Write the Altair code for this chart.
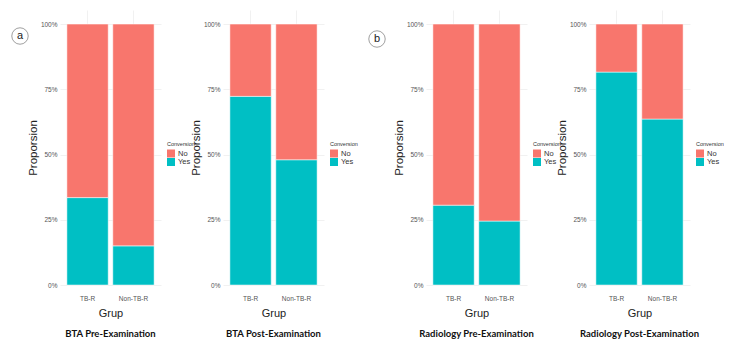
import altair as alt
import pandas as pd

groups = ["TB-R", "Non-TB-R"]
conversion_levels = ["No", "Yes"]
conversion_colors = ["#F8766D", "#00BFC4"]
panel_titles = ["BTA Pre-Examination", "BTA Post-Examination",
                "Radiology Pre-Examination", "Radiology Post-Examination"]
yes_bta_pre = [0.335, 0.15]
yes_bta_post = [0.723, 0.48]
yes_rad_pre = [0.306, 0.245]
yes_rad_post = [0.816, 0.636]
y_ticks = [0, 0.25, 0.5, 0.75, 1.0]

AX_FONT = "Liberation Sans"
TITLE_FONT = "Lato"


def make_panel(title, yes_vals, tag=None, tag_x=0, tag_y=0):
    rows = []
    for g, v in zip(groups, yes_vals):
        rows.append({"Grup": g, "Conversion": "Yes", "Proporsion": v, "ord": 0})
        rows.append({"Grup": g, "Conversion": "No", "Proporsion": round(1 - v, 4), "ord": 1})
    df = pd.DataFrame(rows)
    bars = alt.Chart(df).mark_bar(stroke="white", strokeWidth=0.5).encode(
        x=alt.X("Grup:N", sort=groups,
                scale=alt.Scale(paddingInner=0.1, paddingOuter=0.15),
                axis=alt.Axis(title="Grup", labelAngle=0, ticks=False, domain=False,
                              labelFontSize=6.5, labelColor="#555555",
                              labelPadding=10,
                              titleFontSize=11, titleFontWeight="normal", titleColor="#222222",
                              titlePadding=6, grid=True, gridColor="#eeeeee", gridWidth=0.8)),
        y=alt.Y("Proporsion:Q", stack="zero",
                scale=alt.Scale(domain=[0, 1.054], nice=False, zero=True),
                axis=alt.Axis(title="Proporsion", values=y_ticks, format=".0%", ticks=False,
                              domain=False, labelFontSize=6.5,
                              labelColor="#555555", labelPadding=3,
                              titleFontSize=11.5, titleFontWeight="normal",
                              titleColor="#222222", titlePadding=2,
                              gridColor="#eeeeee", gridWidth=0.8)),
        color=alt.Color("Conversion:N",
                        scale=alt.Scale(domain=conversion_levels, range=conversion_colors),
                        legend=alt.Legend(title="Conversion", titleFontSize=5.5,
                                          titleFontWeight="normal", titleColor="#333333",
                                          labelFontSize=7.5, labelColor="#333333",
                                          symbolType="square", symbolSize=64,
                                          symbolStrokeWidth=0, rowPadding=0.5,
                                          titlePadding=2, labelOffset=3,
                                          orient="none", legendX=107, legendY=132)),
        order=alt.Order("ord:Q"),
    )
    layers = [bars]
    if tag is not None:
        circ = alt.Chart(pd.DataFrame({"t": [tag]})).mark_point(
            shape="circle", size=270, filled=False, color="#555555", strokeWidth=0.8
        ).encode(x=alt.value(tag_x), y=alt.value(tag_y))
        txt = alt.Chart(pd.DataFrame({"t": [tag]})).mark_text(
            fontSize=11, font=AX_FONT, color="#222222", baseline="middle", align="center"
        ).encode(x=alt.value(tag_x), y=alt.value(tag_y), text="t:N")
        layers += [circ, txt]
    return alt.layer(*layers).properties(
        width=101, height=275,
        title=alt.TitleParams(text=title, orient="bottom", anchor="middle", frame="group",
                              fontSize=9.5, fontWeight="bold", font=TITLE_FONT,
                              color="#111111", offset=10),
    )


p1 = make_panel(panel_titles[0], yes_bta_pre, "a", -40, 26)
p2 = make_panel(panel_titles[1], yes_bta_post)
p3 = make_panel(panel_titles[2], yes_rad_pre, "b", -49, 29)
p4 = make_panel(panel_titles[3], yes_rad_post)

left = alt.hconcat(p1, p2, spacing=62, bounds="flush").resolve_scale(color="independent")
right = alt.hconcat(p3, p4, spacing=62, bounds="flush").resolve_scale(color="independent")

chart = alt.hconcat(left, right, spacing=9, bounds="full").resolve_scale(
    color="independent").properties(
    padding={"left": 2, "top": 2, "right": 0, "bottom": 6}
).configure_view(stroke=None).configure_axis(labelFont=AX_FONT, titleFont=AX_FONT).configure_legend(
    labelFont=AX_FONT, titleFont=AX_FONT)

chart.save("out.html", embed_options={"renderer": "svg", "actions": False})
